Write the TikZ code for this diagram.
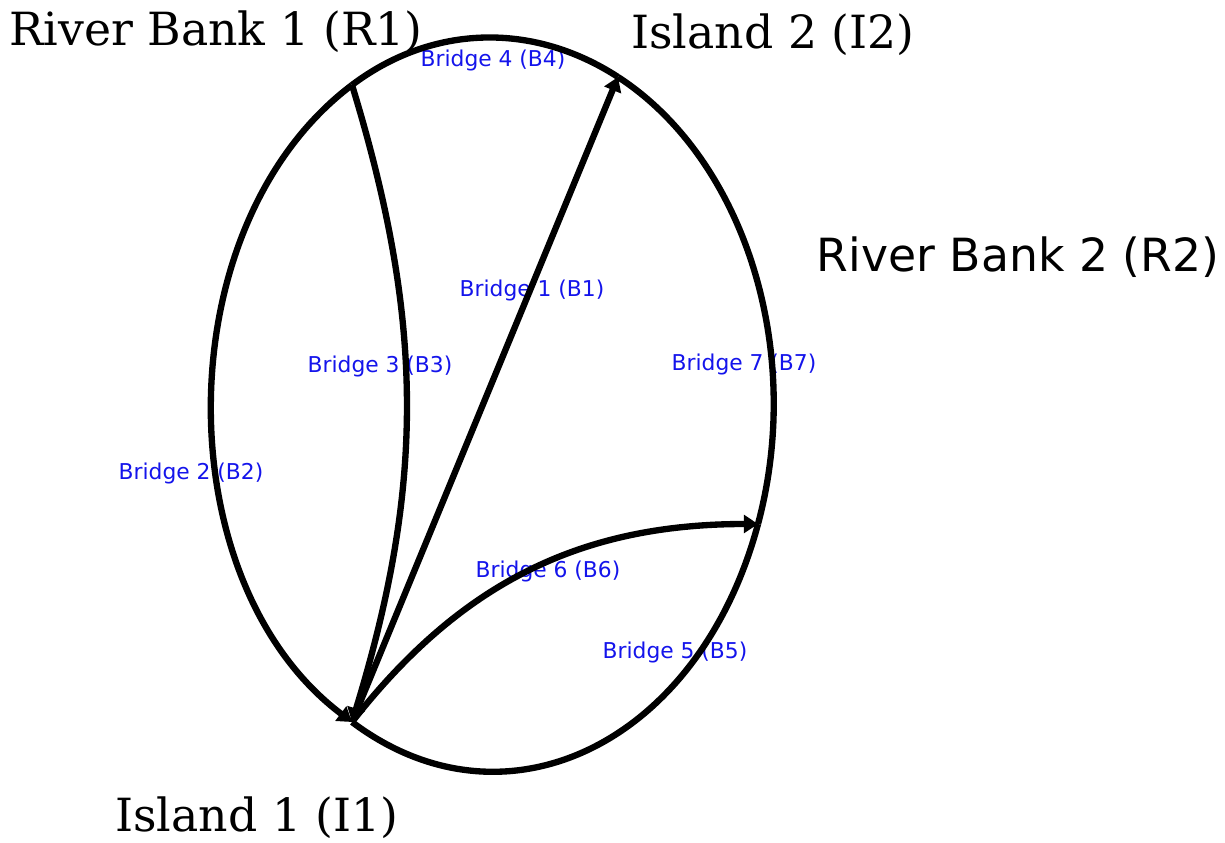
\documentclass[tikz,border=0pt]{standalone}
\usepackage{fontspec}
\setmainfont{DejaVu Serif}
\newfontfamily\dvsans{DejaVu Sans}
\usepackage{tikz}
\usetikzlibrary{arrows.meta,positioning}
\definecolor{brblue}{RGB}{20,20,235}

\begin{document}
\begin{tikzpicture}[x=0.01cm, y=0.01cm,
      lab/.style={font=\fontsize{13}{15}\selectfont, inner sep=0pt},
      blab/.style={font=\dvsans\fontsize{6.2}{7.5}\selectfont, text=brblue, inner sep=0pt},
      edge/.style={line width=1.8pt, black},
      tip/.style={-{Triangle[length=4pt,width=5pt]}}]
    \useasboundingbox (0,0) rectangle (1225,842);
    % land masses
    \coordinate (r1) at (352,757);
    \coordinate (i2) at (618,765);
    \coordinate (r2) at (758,318);
    \coordinate (i1) at (352,120);
    \node[lab] (r1lab) at (216,810) {River Bank 1 (R1)};
    \node[lab] (i2lab) at (773,807) {Island 2 (I2)};
    \node[lab, font=\dvsans\fontsize{13}{15}\selectfont] (r2lab) at (1018,585) {River Bank 2 (R2)};
    \node[lab] (i1lab) at (257,24) {Island 1 (I1)};
    % bridge labels
    \node[blab] (b1) at (532,552) {Bridge 1 (B1)};
    \node[blab] (b2) at (191,369) {Bridge 2 (B2)};
    \node[blab] (b3) at (380,476) {Bridge 3 (B3)};
    \node[blab] (b4) at (493,782) {Bridge 4 (B4)};
    \node[blab] (b5) at (675,190) {Bridge 5 (B5)};
    \node[blab] (b6) at (548,271) {Bridge 6 (B6)};
    \node[blab] (b7) at (744,478) {Bridge 7 (B7)};
    % bridges
    \draw[edge, tip] (i1) -- (i2);
    \draw[edge, tip] (r1) to[out=217, in=143, looseness=0.94] (i1);
    \draw[edge, tip] (r1) to[bend left=17] (i1);
    \draw[edge] (r1) to[out=37, in=147, looseness=0.97] (i2);
    \draw[edge] (i1) to[out=-37, in=255, out looseness=1.09, in looseness=1.28] (r2);
    \draw[edge, tip] (i1) to[bend left=26] (r2);
    \draw[edge] (i2) to[out=-33, in=75, out looseness=0.82, in looseness=0.99] (r2);
  \end{tikzpicture}
\end{document}
